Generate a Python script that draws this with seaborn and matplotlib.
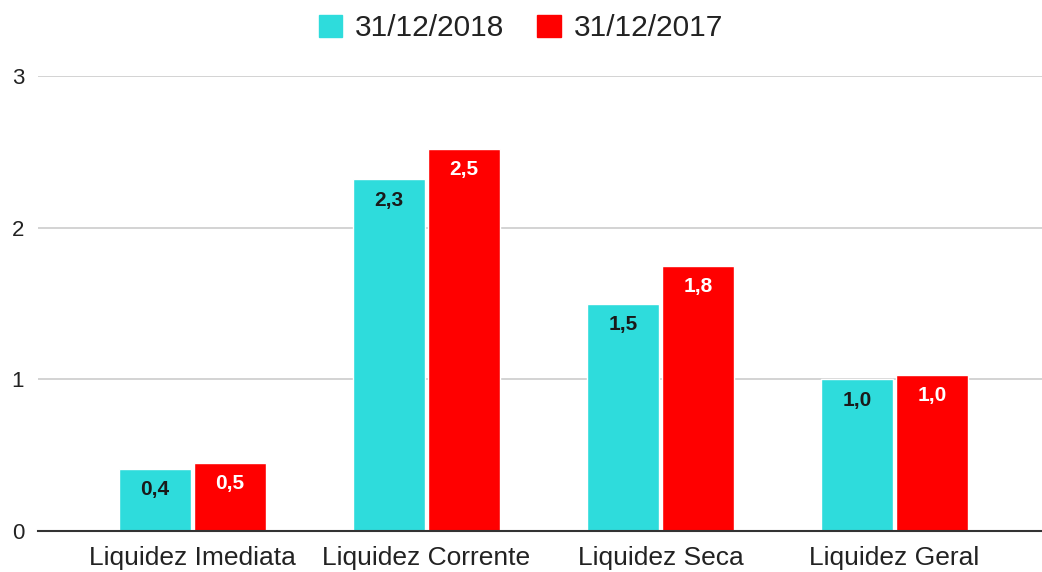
import matplotlib.pyplot as plt
import pandas as pd
import seaborn as sns

categories = ["Liquidez Imediata", "Liquidez Corrente", "Liquidez Seca", "Liquidez Geral"]
series_names = ["31/12/2018", "31/12/2017"]
vals_2018 = [0.41, 2.32, 1.50, 1.00]
vals_2017 = [0.45, 2.52, 1.75, 1.03]
palette = {"31/12/2018": "#2edcdc", "31/12/2017": "#ff0000"}
label_colors = {"31/12/2018": "#1a1a1a", "31/12/2017": "white"}

df = pd.DataFrame({
    "indicador": categories * 2,
    "data": [series_names[0]] * 4 + [series_names[1]] * 4,
    "valor": vals_2018 + vals_2017,
})

sns.set_style("white")
plt.rcParams['font.family'] = ['Liberation Sans', 'DejaVu Sans']

fig = plt.figure(figsize=(10.42, 5.72), dpi=100)
ax = fig.add_axes([38 / 1042, 41 / 572, 1004 / 1042, 455 / 572])

sns.barplot(data=df, x="indicador", y="valor", hue="data", hue_order=series_names,
            palette=palette, width=0.64, gap=0.03, saturation=1, ax=ax, legend=False)

# labels inside the bars, near the top
for cont, name in zip(ax.containers, series_names):
    labels = [f"{v:.1f}".replace(".", ",") for v in cont.datavalues]
    ax.bar_label(cont, labels=labels, label_type="edge", padding=-22,
                 color=label_colors[name], fontsize=15, fontweight="bold")

ax.set_xlim(-0.66, 3.63)
ax.set_ylim(0, 3)
ax.set_yticks([0, 1, 2, 3])
ax.set_yticklabels(["0", "1", "2", "3"])
ax.yaxis.grid(True, color="#cccccc", linewidth=1.2)
ax.set_axisbelow(True)
for s in ["top", "right", "left"]:
    ax.spines[s].set_visible(False)
ax.spines["bottom"].set_color("#333333")
ax.spines["bottom"].set_linewidth(1.5)
ax.tick_params(axis="y", length=0, pad=10, labelsize=16, labelcolor="#222222")
ax.tick_params(axis="x", length=0, pad=11, labelsize=19, labelcolor="#222222")
ax.set_xlabel("")
ax.set_ylabel("")

# legend at the top
handles = [plt.Rectangle((0, 0), 1, 1, color=palette[n]) for n in series_names]
fig.legend(handles, series_names, loc="upper center", bbox_to_anchor=(0.5, 1.022),
           ncol=2, frameon=False, fontsize=21.5, handlelength=0.78, handleheight=0.78,
           handletextpad=0.45, columnspacing=1.1, labelcolor="#222222")

fig.savefig("out.png", dpi=100)
